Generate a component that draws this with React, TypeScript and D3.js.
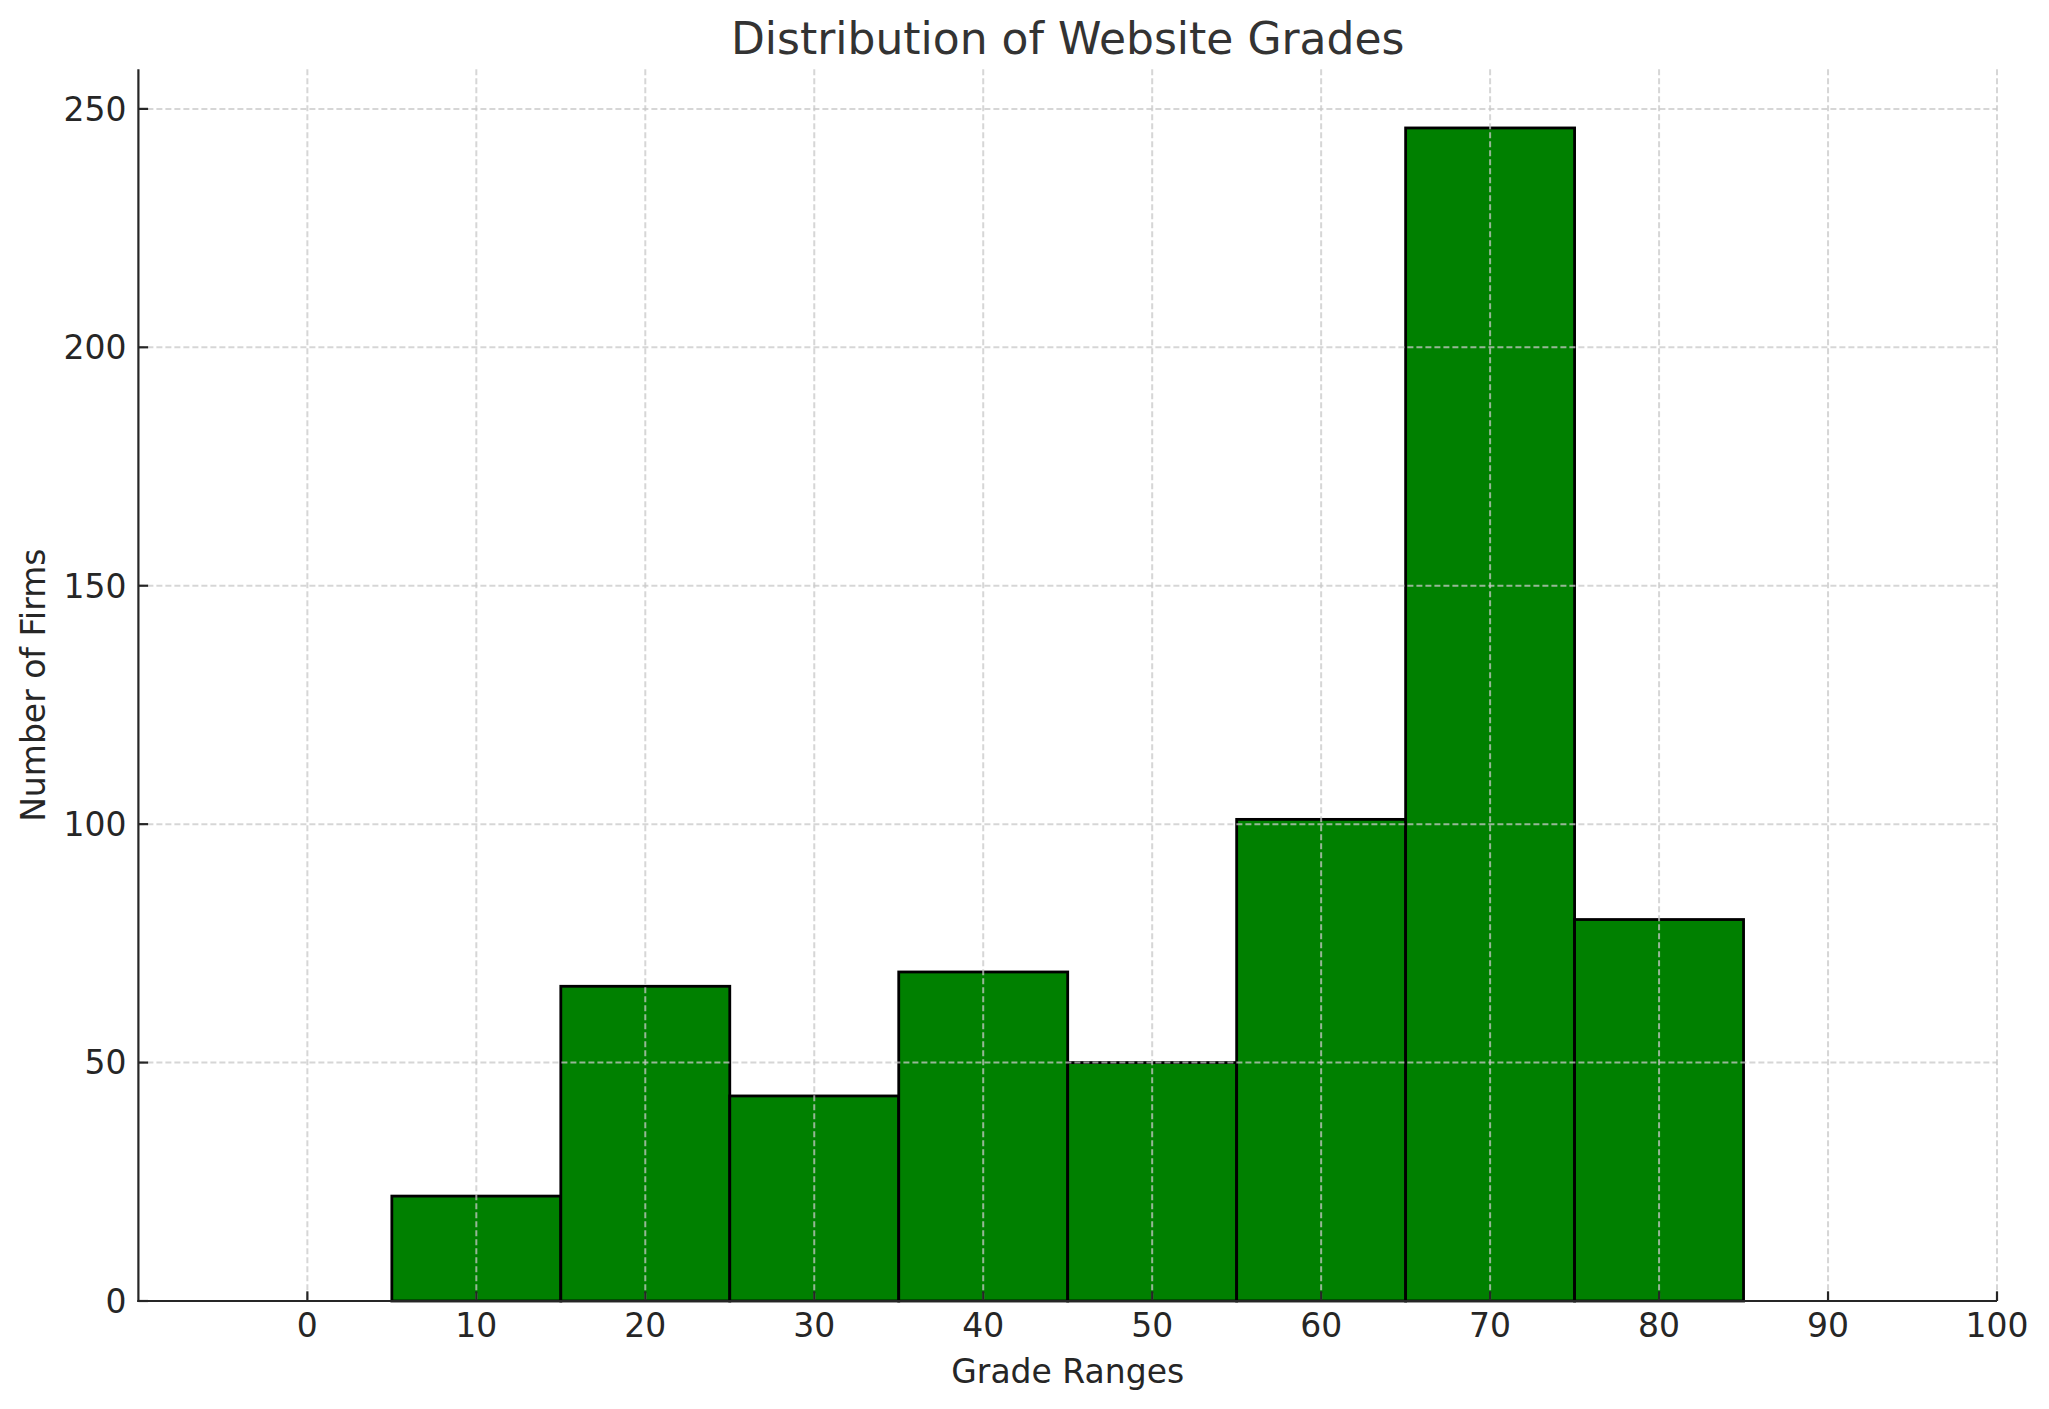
import React from "react";
import * as d3 from "d3";

const binStarts = [5, 15, 25, 35, 45, 55, 65, 75];
const binWidth = 10;
const counts = [22, 66, 43, 69, 50, 101, 246, 80];
const xTicks = [0, 10, 20, 30, 40, 50, 60, 70, 80, 90, 100];
const yTicks = [0, 50, 100, 150, 200, 250];

const W = 2049;
const H = 1409;
const left = 138.4;
const right = 1997;
const top = 69.3;
const bottom = 1301;
const FONT = "'DejaVu Sans', sans-serif";

export default function App() {
  const x = d3.scaleLinear().domain([-10, 100]).range([left, right]);
  const y = d3.scaleLinear().domain([0, 258.3]).range([bottom, top]);
  const tickLen = 9.7;
  return (
    <svg width={W} height={H} style={{ position: "absolute", left: 0, top: 0, background: "#fff" }}>
      <rect x={0} y={0} width={W} height={H} fill="#fff" />
      {binStarts.map((b, i) => (
        <rect
          key={i}
          x={x(b)}
          y={y(counts[i])}
          width={x(b + binWidth) - x(b)}
          height={y(0) - y(counts[i])}
          fill="#008000"
          stroke="#000"
          strokeWidth={2.8}
        />
      ))}
      {/* grid */}
      {xTicks.map((t) => (
        <line key={"gx" + t} x1={x(t)} x2={x(t)} y1={top} y2={bottom} stroke="#c8c8c8" strokeOpacity={0.75} strokeWidth={2} strokeDasharray="6,3" />
      ))}
      {yTicks.map((t) => (
        <line key={"gy" + t} x1={left} x2={right} y1={y(t)} y2={y(t)} stroke="#c8c8c8" strokeOpacity={0.75} strokeWidth={2} strokeDasharray="6,3" />
      ))}
      {/* spines */}
      <line x1={left} x2={left} y1={top} y2={bottom + 1.1} stroke="#262626" strokeWidth={2.2} />
      <line x1={left - 1.1} x2={right} y1={bottom} y2={bottom} stroke="#262626" strokeWidth={2.2} />
      {/* x ticks */}
      {xTicks.map((t) => (
        <g key={"xt" + t}>
          <line x1={x(t)} x2={x(t)} y1={bottom} y2={bottom - tickLen} stroke="#262626" strokeWidth={2.2} />
          <text x={x(t)} y={bottom + 11} dy="0.76em" textAnchor="middle" fontFamily={FONT} fontSize={33} fill="#262626">
            {t}
          </text>
        </g>
      ))}
      {/* y ticks */}
      {yTicks.map((t) => (
        <g key={"yt" + t}>
          <line x1={left} x2={left + tickLen} y1={y(t)} y2={y(t)} stroke="#262626" strokeWidth={2.2} />
          <text x={left - 12} y={y(t)} dy="0.36em" textAnchor="end" fontFamily={FONT} fontSize={33} fill="#262626">
            {t}
          </text>
        </g>
      ))}
      <text x={(left + right) / 2} y={1383} textAnchor="middle" fontFamily={FONT} fontSize={33} fill="#262626">
        Grade Ranges
      </text>
      <text
        transform={`translate(${45},${(top + bottom) / 2}) rotate(-90)`}
        textAnchor="middle"
        fontFamily={FONT}
        fontSize={33}
        fill="#262626"
      >
        Number of Firms
      </text>
      <text x={(left + right) / 2} y={54} textAnchor="middle" fontFamily={FONT} fontSize={44} fill="#333">
        Distribution of Website Grades
      </text>
    </svg>
  );
}
